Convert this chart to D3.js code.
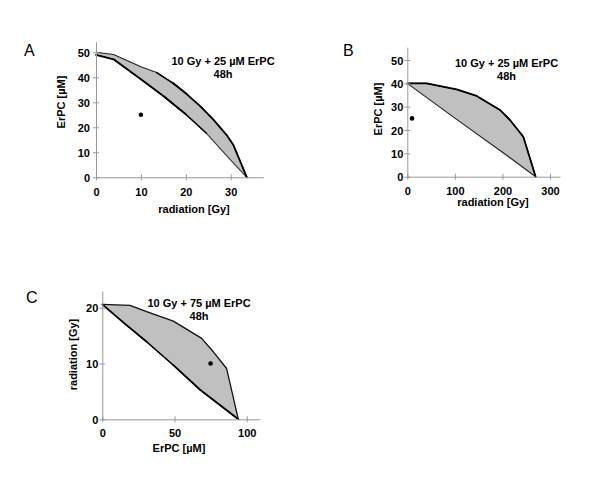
<!DOCTYPE html>
<html><head><meta charset="utf-8">
<script src="https://cdn.jsdelivr.net/npm/d3@7"></script>
<style>body{margin:0;background:#fff}text{font-family:"Liberation Sans",Arial,sans-serif}</style>
</head><body>
<svg id="c" width="600" height="480"></svg>
<script>
// ---- data ----
const upperA = [[0,50],[3.9,49.1],[10,44.2],[13.5,41.9],[17.2,37.6],[20.2,33.3],[23.2,28.5],[26.1,23.2],[29.1,16.9],[30.6,12.9],[33.6,0]];
const lowerA = [[0,49],[3.9,47.2],[10,39.2],[15,32.5],[20,25.2],[24.6,17.6],[30,6.9],[33.6,0]];
const pointA = [10,25];
const upperB = [[0,40],[40.6,40],[103.7,37.4],[145.8,34.6],[194.8,28.6],[215.8,24.3],[243.9,17.1],[269.8,0]];
const lowerB = [[0,40],[100,25.1],[200,10.5],[269.8,0]];
const pointB = [10,25];
const upperC = [[0,20.6],[19.2,20.4],[30.7,19.3],[49.2,17.6],[68.8,14.5],[76.9,12.1],[86.1,9.1],[94.2,0]];
const lowerC = [[0,20.6],[15.7,17.1],[30.7,13.9],[49.2,9.7],[67.7,5.3],[94.2,0]];
const pointC = [75,10];
const ticksAx = [0,10,20,30], ticksAy = [0,10,20,30,40,50];
const ticksBx = [0,100,200,300], ticksBy = [0,10,20,30,40,50];
const ticksCx = [0,50,100], ticksCy = [0,10,20];
const titleAB = ["10 Gy + 25 µM ErPC","48h"];
const titleC = ["10 Gy + 75 µM ErPC","48h"];

const svg = d3.select("#c");

function panel(o){
  const x = d3.scaleLinear().domain([0,o.xmax]).range([o.x0, o.x0 + o.xmax*o.xs]);
  const y = d3.scaleLinear().domain([0,o.ymax]).range([o.y0, o.y0 - o.ymax*o.ys]);
  const g = svg.append("g");
  const poly = o.upper.concat(o.lower.slice().reverse());
  const line = d3.line().x(d=>x(d[0])).y(d=>y(d[1]));
  g.append("path").attr("d", line(poly)+"Z").attr("fill","#c0c0c0").attr("stroke","none");
  g.append("path").attr("d", line(o.upper)).attr("fill","none").attr("stroke",o.upCol||"#333").attr("stroke-width",o.upW||1.1).attr("stroke-linejoin","round");
  g.append("path").attr("d", line(o.lower)).attr("fill","none").attr("stroke",o.loCol||"#333").attr("stroke-width",o.loW||1.1).attr("stroke-linejoin","round");
  (o.thick||[]).forEach(t=>{
    const src = t.which==="u"?o.upper:o.lower;
    const seg = src.filter(d=>d[0]>=t.from-1e-9 && d[0]<=t.to+1e-9);
    g.append("path").attr("d", line(seg)).attr("fill","none").attr("stroke","#000").attr("stroke-width",t.w||1.8).attr("stroke-linejoin","round").attr("stroke-linecap","round");
  });
  const ax = g.append("g").attr("transform",`translate(0,${o.y0})`)
    .call(d3.axisBottom(x).tickValues(o.tx).tickSizeInner(3).tickSizeOuter(0).tickPadding(100));
  const ay = g.append("g").attr("transform",`translate(${o.x0},0)`)
    .call(d3.axisLeft(y).tickValues(o.ty).tickSizeInner(3).tickSizeOuter(0).tickPadding(100));
  [ax,ay].forEach(a=>{a.select(".domain").attr("stroke","#999"); a.selectAll(".tick line").attr("stroke","#999");});
  ax.selectAll(".tick line").attr("y1",-3).attr("y2",3);
  ay.selectAll(".tick line").attr("x1",-3).attr("x2",3);
  ax.selectAll(".tick text").attr("y",o.xlab).attr("dy",0).attr("fill","#000")
    .style("font-size","11px").style("font-weight","bold");
  ay.selectAll(".tick text").attr("x",-o.ylab).attr("dy","0.36em").attr("fill","#000")
    .style("font-size","11px").style("font-weight","bold");
  g.append("circle").attr("cx",x(o.pt[0])).attr("cy",y(o.pt[1])).attr("r",2.3).attr("fill","#000");
  o.title.forEach((t,i)=>g.append("text").attr("x",o.tx0).attr("y",o.ty0+i*13).attr("text-anchor","middle")
    .style("font-size","11px").style("font-weight","bold").text(t));
  g.append("text").attr("x",o.lx).attr("y",o.ly).style("font-size","16px").text(o.letter);
  g.append("text").attr("x",o.xlx).attr("y",o.xly).attr("text-anchor","middle")
    .style("font-size","11px").style("font-weight","bold").text(o.xlabel);
  g.append("text").attr("transform",`translate(${o.ylx},${o.yly}) rotate(-90)`).attr("text-anchor","middle")
    .style("font-size","11px").style("font-weight","bold").text(o.ylabel);
}

panel({x0:96,y0:177.3,xs:4.49,ys:2.5,xmax:37.3,ymax:54.2,upper:upperA,lower:lowerA,pt:pointA,
  tx:ticksAx,ty:ticksAy,xlab:19,ylab:6,title:titleAB,tx0:223,ty0:64.5,letter:"A",lx:24,ly:56,
  xlabel:"radiation [Gy]",xlx:194,xly:213,ylabel:"ErPC [µM]",ylx:65,yly:102,
  upCol:"#222",loCol:"#333",
  thick:[{which:"u",from:13.5,to:20.2,w:1.4},{which:"u",from:17.2,to:33.6},{which:"l",from:0,to:20},{which:"l",from:15,to:24.6,w:1.4}]});
panel({x0:407.3,y0:176.7,xs:0.4757,ys:2.333,xmax:321,ymax:55.5,upper:upperB,lower:lowerB,pt:pointB,
  tx:ticksBx,ty:ticksBy,xlab:18,ylab:4,title:titleAB,tx0:506.5,ty0:66.5,letter:"B",lx:343,ly:56,
  xlabel:"radiation [Gy]",xlx:493,xly:206,ylabel:"ErPC [µM]",ylx:382,yly:109,
  upCol:"#000",loCol:"#222",thick:[{which:"u",from:0,to:270}]});
panel({x0:102.3,y0:419.3,xs:1.444,ys:5.58,xmax:109,ymax:23,upper:upperC,lower:lowerC,pt:pointC,
  tx:ticksCx,ty:ticksCy,xlab:18,ylab:4,title:titleC,tx0:199,ty0:306.5,letter:"C",lx:26,ly:302.5,
  xlabel:"ErPC [µM]",xlx:179,xly:451.5,ylabel:"radiation [Gy]",ylx:77,yly:354.5,
  upCol:"#111",upW:1.3,loCol:"#333",
  thick:[{which:"l",from:0,to:30.7},{which:"l",from:30.7,to:49.2,w:1.3},{which:"l",from:49.2,to:95}]});
</script>
</body></html>
